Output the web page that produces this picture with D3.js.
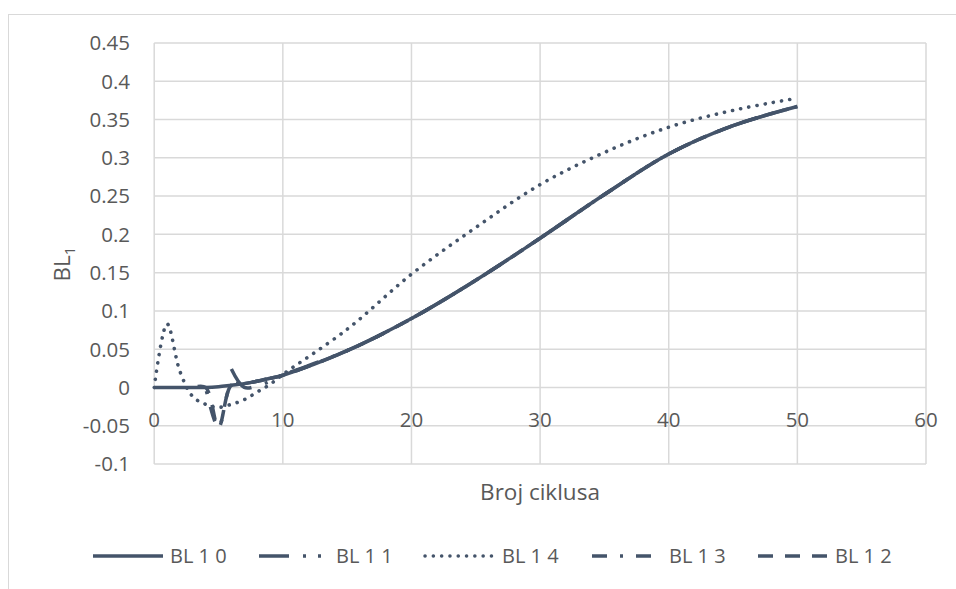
<!DOCTYPE html>
<html>
<head>
<meta charset="utf-8">
<script src="https://cdn.jsdelivr.net/npm/d3@7"></script>
<style>
  html, body { margin: 0; padding: 0; background: #fff; }
  svg { display: block; }
  text { font-family: "Open Sans", sans-serif; fill: #595959; }
</style>
</head>
<body>
<svg id="chart" width="956" height="589"></svg>
<script>
// ---- data ----
const cycles = [0, 1, 2, 3, 4, 5, 6, 7, 8, 9, 10, 15, 20, 25, 30, 35, 40, 45, 50];
const bl10 = [0, 0, 0, 0, 0, 0.001, 0.003, 0.005, 0.008, 0.012, 0.016, 0.048, 0.090, 0.140, 0.195, 0.252, 0.305, 0.342, 0.367];
const bl11 = [null, null, null, null, null, null, 0.024, 0.0, 0.002, 0.008, 0.016, 0.048, 0.090, 0.140, 0.195, 0.252, 0.305, 0.342, 0.367];
const bl14 = [0, 0.083, 0.021, -0.012, -0.022, -0.026, -0.022, -0.016, -0.006, 0.004, 0.017, 0.076, 0.148, 0.209, 0.265, 0.307, 0.340, 0.362, 0.378];
const bl13 = [null, null, null, null, 0, -0.052, 0.003, 0.005, 0.008, 0.012, 0.016, 0.048, 0.090, 0.140, 0.195, 0.252, 0.305, 0.342, 0.367];
const bl12 = [null, null, null, 0, 0, -0.052, 0.003, 0.005, 0.008, 0.012, 0.016, 0.048, 0.090, 0.140, 0.195, 0.252, 0.305, 0.342, 0.367];
const seriesNames = ["BL 1 0", "BL 1 1", "BL 1 4", "BL 1 3", "BL 1 2"];
const xTickValues = [0, 10, 20, 30, 40, 50, 60];
const yTickValues = [-0.1, -0.05, 0, 0.05, 0.1, 0.15, 0.2, 0.25, 0.3, 0.35, 0.4, 0.45];
const xTitle = "Broj ciklusa";

// ---- styles ----
const seriesStyle = {
  "BL 1 0": { dash: null, cap: "butt", offset: 0 },
  "BL 1 1": { dash: "30,14,3,12,3,10", cap: "butt", offset: 0 },
  "BL 1 4": { dash: "0.1,8.2", cap: "round", offset: 0 },
  "BL 1 3": { dash: "15,13,3,13", cap: "butt", offset: -20 },
  "BL 1 2": { dash: "15,12", cap: "butt", offset: -5 }
};
const seriesValues = { "BL 1 0": bl10, "BL 1 1": bl11, "BL 1 4": bl14, "BL 1 3": bl13, "BL 1 2": bl12 };
const lineColor = "#44546a";
const gridColor = "#d9d9d9";

const svg = d3.select("#chart");

// outer border
svg.append("rect").attr("x", 8.5).attr("y", 14.5).attr("width", 980).attr("height", 620)
  .attr("fill", "none").attr("stroke", gridColor).attr("stroke-width", 1);

const x = d3.scaleLinear().domain([0, 60]).range([154.2, 926]);
const y = d3.scaleLinear().domain([-0.1, 0.45]).range([464, 43]);

// gridlines
svg.append("g").selectAll("line").data(yTickValues).join("line")
  .attr("x1", x(0)).attr("x2", x(60))
  .attr("y1", d => y(d)).attr("y2", d => y(d))
  .attr("stroke", gridColor).attr("stroke-width", 1.5);
svg.append("g").selectAll("line").data(xTickValues).join("line")
  .attr("x1", d => x(d)).attr("x2", d => x(d))
  .attr("y1", y(0.45)).attr("y2", y(-0.1))
  .attr("stroke", gridColor).attr("stroke-width", 1.5);

// y tick labels
const fmt = d => String(+d.toFixed(2));
svg.append("g").selectAll("text").data(yTickValues).join("text")
  .attr("x", 130).attr("y", d => y(d)).attr("dy", "0.36em")
  .attr("text-anchor", "end").attr("font-size", 20.5)
  .text(fmt);

// x tick labels (below the zero axis)
svg.append("g").selectAll("text").data(xTickValues).join("text")
  .attr("x", d => x(d)).attr("y", y(0) + 32).attr("dy", "0.36em")
  .attr("text-anchor", "middle").attr("font-size", 20.5)
  .text(d => d);

// axis titles
svg.append("text").attr("x", 540).attr("y", 492).attr("dy", "0.36em")
  .attr("text-anchor", "middle").attr("font-size", 22.5).text(xTitle);

const yt = svg.append("text").attr("transform", "translate(70,264) rotate(-90)")
  .attr("text-anchor", "middle").attr("font-size", 22.5);
yt.append("tspan").text("BL");
yt.append("tspan").attr("font-size", 15).attr("dy", 5).text("1");

// series
const line = d3.line()
  .defined(d => d.v !== null)
  .x(d => x(d.c)).y(d => y(d.v))
  .curve(d3.curveCatmullRom.alpha(0.5));

const g = svg.append("g");
seriesNames.forEach(name => {
  const st = seriesStyle[name];
  const pts = cycles.map((c, i) => ({ c, v: seriesValues[name][i] }));
  const p = g.append("path").datum(pts.filter(d => d.v !== null))
    .attr("d", line)
    .attr("fill", "none").attr("stroke", lineColor)
    .attr("stroke-width", name === "BL 1 4" ? 3.6 : 3.5)
    .attr("stroke-linecap", st.cap).attr("stroke-linejoin", "round");
  if (st.dash) p.attr("stroke-dasharray", st.dash).attr("stroke-dashoffset", st.offset);
});

// legend
const legendX = [93, 259, 425, 592, 758];
const legendY = 556;
const lg = svg.append("g");
seriesNames.forEach((name, i) => {
  const st = seriesStyle[name];
  const l = lg.append("line")
    .attr("x1", legendX[i]).attr("x2", legendX[i] + 70)
    .attr("y1", legendY).attr("y2", legendY)
    .attr("stroke", lineColor).attr("stroke-width", 3.5)
    .attr("stroke-linecap", st.cap);
  if (st.dash) l.attr("stroke-dasharray", st.dash);
  lg.append("text").attr("x", legendX[i] + 77).attr("y", legendY).attr("dy", "0.36em")
    .attr("font-size", 20).text(name);
});
</script>
</body>
</html>
